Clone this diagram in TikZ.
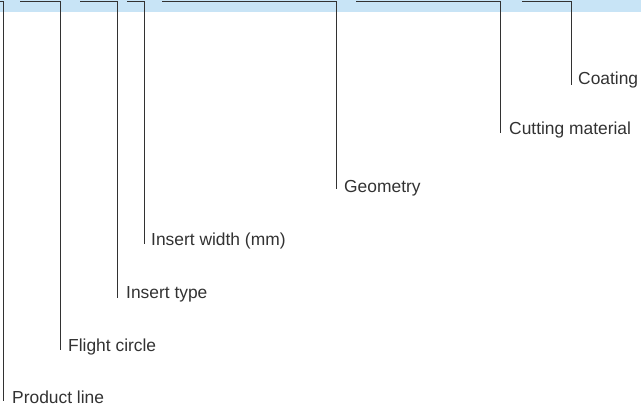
\documentclass[tikz,border=0pt]{standalone}
\usepackage{fontspec}
\setmainfont{Liberation Sans}
\definecolor{band}{RGB}{200,228,246}
\definecolor{ink}{RGB}{50,50,50}
\begin{document}
\begin{tikzpicture}[x=1pt,y=-1pt,
  lbl/.style={anchor=base west,inner sep=0pt,font=\fontsize{17.4}{19}\selectfont,text=ink},
  lead/.style={draw=ink,line width=0.9pt}]
\useasboundingbox (0,0) rectangle (641,412);
\fill[band] (0,0) rectangle (641,12);
% labels
\node[lbl] (pl) at (12,403) {Product line};
\node[lbl] (fc) at (68,351) {Flight circle};
\node[lbl] (it) at (126,298) {Insert type};
\node[lbl] (iw) at (151,245) {Insert width (mm)};
\node[lbl] (ge) at (344,193) {Geometry};
\node[lbl] (cm) at (509,135) {Cutting material};
\node[lbl] (co) at (578,85) {Coating};
% bracket starts and corners
\coordinate (s1) at (-1,1.3);  \coordinate (c1) at (3.5,1.3);
\coordinate (s2) at (20,1.3);  \coordinate (c2) at (60,1.3);
\coordinate (s3) at (80,1.3);  \coordinate (c3) at (117,1.3);
\coordinate (s4) at (127,1.3); \coordinate (c4) at (144,1.3);
\coordinate (s5) at (162,1.3); \coordinate (c5) at (336.5,1.3);
\coordinate (s6) at (356,1.3); \coordinate (c6) at (500.5,1.3);
\coordinate (s7) at (522,1.3); \coordinate (c7) at (571.5,1.3);
\draw[lead] (s1) -- (c1) -- ([yshift=2pt]c1 |- pl.base);
\draw[lead] (s2) -- (c2) -- ([yshift=1pt]c2 |- fc.base);
\draw[lead] (s3) -- (c3) -- ([yshift=0pt]c3 |- it.base);
\draw[lead] (s4) -- (c4) -- ([yshift=1pt]c4 |- iw.base);
\draw[lead] (s5) -- (c5) -- ([yshift=4pt]c5 |- ge.base);
\draw[lead] (s6) -- (c6) -- ([yshift=2pt]c6 |- cm.base);
\draw[lead] (s7) -- (c7) -- ([yshift=0pt]c7 |- co.base);
\end{tikzpicture}
\end{document}
